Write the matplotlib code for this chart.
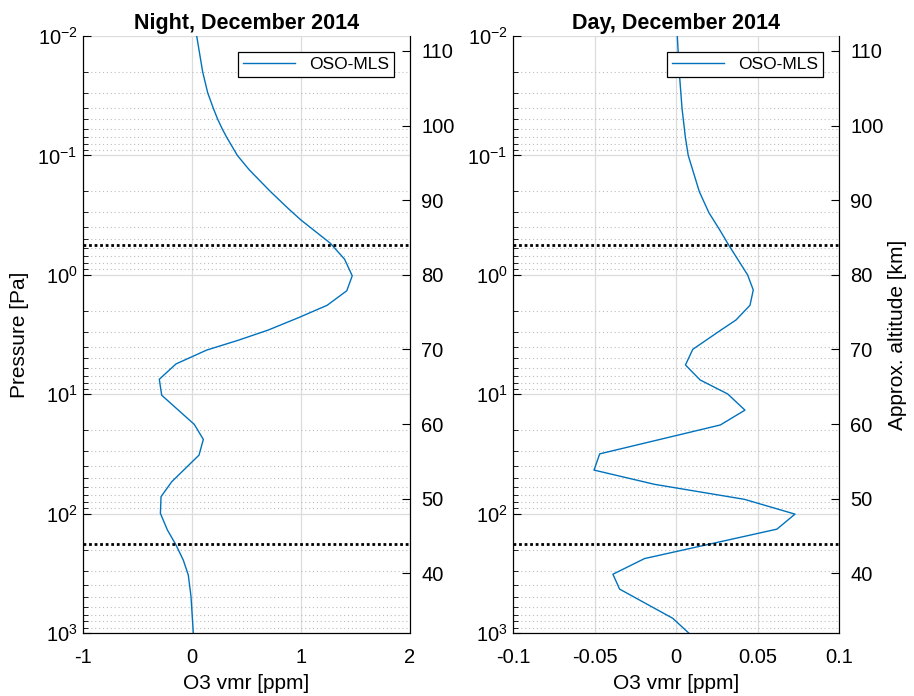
import numpy as np
import matplotlib
matplotlib.use("Agg")
import matplotlib.pyplot as plt
from matplotlib.ticker import LogLocator, NullFormatter

plt.rcParams['font.family'] = ['Liberation Sans', 'DejaVu Sans']
plt.rcParams['mathtext.default'] = 'regular'

# Night profile
night_p = [0.01, 0.02, 0.0299, 0.0404, 0.0499, 0.0601, 0.0705, 0.0804, 0.1, 0.132,
           0.201, 0.277, 0.348, 0.545, 0.741,
           1.02, 1.36, 1.80, 2.29, 2.90, 3.52, 4.27, 5.58, 7.50, 10.2,
           17.9, 23.9, 32.4, 54.1, 72.1, 99.5, 137, 183, 245, 327, 497, 1000]
night_v = [0.043, 0.098, 0.144, 0.196, 0.236, 0.278, 0.318, 0.355, 0.416, 0.525,
           0.72, 0.88, 1.00, 1.27, 1.40,
           1.47, 1.42, 1.24, 0.975, 0.70, 0.43, 0.135, -0.147, -0.30, -0.278,
           0.021, 0.104, 0.064, -0.186, -0.284, -0.29, -0.226, -0.147, -0.08, -0.034, -0.009, 0.012]

# Day profile
day_p = [0.01, 0.02, 0.0404, 0.0697, 0.1, 0.201, 0.302, 0.416, 0.574, 1.0, 1.34, 1.80,
         2.39, 2.90, 4.21, 5.69, 7.60, 9.95, 13.6, 18.1, 31.6, 43.2,
         56.9, 75.9, 101, 135, 238, 322, 429, 753, 1000]
day_v = [0.0008, 0.002, 0.0037, 0.0057, 0.0075, 0.0143, 0.0202, 0.0266, 0.0327, 0.0439, 0.0474, 0.0454,
         0.0368, 0.0276, 0.0103, 0.0058, 0.0148, 0.0317, 0.0423, 0.0272, -0.0468, -0.0503,
         -0.0131, 0.0419, 0.073, 0.0619, -0.0193, -0.0387, -0.0346, -0.002, 0.0078]

limit_p = [0.56, 180]

titles = ["Night, December 2014", "Day, December 2014"]
xlims = [(-1, 2), (-0.1, 0.1)]
xticks = [[-1, 0, 1, 2], [-0.1, -0.05, 0, 0.05, 0.1]]
xticklabels = [["-1", "0", "1", "2"], ["-0.1", "-0.05", "0", "0.05", "0.1"]]
alt_ticks = [40, 50, 60, 70, 80, 90, 100, 110]
alt_lim = (32, 112)
legend_label = "OSO-MLS"

fig = plt.figure(figsize=(9.14, 6.96), dpi=100)
positions = [[83/914, 1-633/696, 327/914, 597/696],
             [513/914, 1-633/696, 326/914, 597/696]]
data = [(night_p, night_v), (day_p, day_v)]
fs = 14.5
blue = '#0072BD'

for i in range(2):
    ax = fig.add_axes(positions[i])
    p, v = data[i]
    ax.plot(v, p, color=blue, lw=1.0, label=legend_label)
    ax.set_yscale('log')
    ax.set_ylim(1e3, 1e-2)
    ax.set_xlim(*xlims[i])
    ax.set_xticks(xticks[i])
    ax.set_xticklabels(xticklabels[i])
    ax.yaxis.set_major_locator(LogLocator(base=10, numticks=10))
    ax.yaxis.set_minor_locator(LogLocator(base=10, subs=np.arange(2, 10), numticks=20))
    ax.yaxis.set_minor_formatter(NullFormatter())
    ax.grid(True, which='major', color='#dcdcdc', lw=0.9, ls='-')
    ax.grid(True, which='minor', axis='y', color='#bdbdbd', lw=0.8, ls=(0, (1, 2.5)))
    ax.set_axisbelow(True)
    for pl in limit_p:
        ax.axhline(pl, color='black', ls=(0, (1, 1.0)), lw=2.0)
    ax.tick_params(axis='both', which='both', direction='in', labelsize=fs)
    ax.tick_params(axis='y', which='major', length=6, pad=4)
    ax.tick_params(axis='y', which='minor', length=3.5)
    ax.tick_params(axis='x', length=0, pad=11)
    ax.spines['top'].set_visible(False)
    ax.set_title(titles[i], fontsize=15.5, fontweight='bold', pad=5)
    ax.set_xlabel("O3 vmr [ppm]", fontsize=15, labelpad=5)
    if i == 0:
        ax.set_ylabel("Pressure [Pa]", fontsize=15, labelpad=6)
    leg = ax.legend(loc='upper right', fontsize=12.5, fancybox=False, edgecolor='black',
                    framealpha=1, handlelength=3.0, borderaxespad=0.9, borderpad=0.3)
    leg.get_frame().set_linewidth(0.9)

    ax2 = ax.twinx()
    ax2.set_ylim(*alt_lim)
    ax2.set_yticks(alt_ticks)
    ax2.tick_params(axis='y', direction='in', length=6, labelsize=fs, pad=8)
    ax2.spines['top'].set_visible(False)
    if i == 1:
        ax2.set_ylabel("Approx. altitude [km]", fontsize=15, labelpad=3)

fig.savefig("out.png", dpi=100)
